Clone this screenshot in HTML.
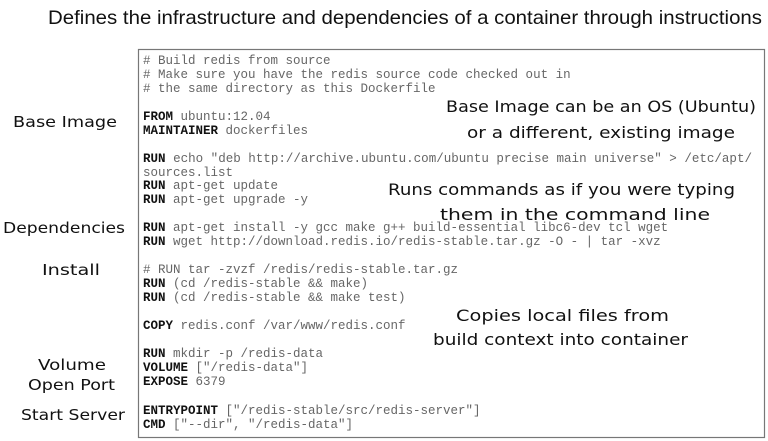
<!DOCTYPE html>
<html><head><meta charset="utf-8"><style>
html,body{margin:0;padding:0;background:#fff;}
svg{display:block}
.c{font-family:"Liberation Mono",monospace;font-size:12.5px;fill:#666}
.c tspan.k{font-weight:bold;fill:#111}
.h{font-family:"DejaVu Sans","Liberation Sans",sans-serif;font-size:15px;fill:#111}
</style></head><body>
<svg width="768" height="441" viewBox="0 0 768 441" xmlns="http://www.w3.org/2000/svg">
<text x="48" y="24" font-family="Liberation Sans, sans-serif" font-size="19.5" fill="#111" textLength="714" lengthAdjust="spacingAndGlyphs">Defines the infrastructure and dependencies of a container through instructions</text>
<rect x="138.5" y="49.5" width="626" height="388" fill="#fff" stroke="#777" stroke-width="1.2"/>
<g class="c">
<text x="143" y="64"># Build redis from source</text>
<text x="143" y="78"># Make sure you have the redis source code checked out in</text>
<text x="143" y="92"># the same directory as this Dockerfile</text>
<text x="143" y="120"><tspan class="k">FROM</tspan> ubuntu:12.04</text>
<text x="143" y="134"><tspan class="k">MAINTAINER</tspan> dockerfiles</text>
<text x="143" y="162" textLength="609" lengthAdjust="spacingAndGlyphs"><tspan class="k">RUN</tspan> echo "deb http://archive.ubuntu.com/ubuntu precise main universe" &gt; /etc/apt/</text>
<text x="143" y="176">sources.list</text>
<text x="143" y="189"><tspan class="k">RUN</tspan> apt-get update</text>
<text x="143" y="203"><tspan class="k">RUN</tspan> apt-get upgrade -y</text>
<text x="143" y="231"><tspan class="k">RUN</tspan> apt-get install -y gcc make g++ build-essential libc6-dev tcl wget</text>
<text x="143" y="245"><tspan class="k">RUN</tspan> wget http://download.redis.io/redis-stable.tar.gz -O - | tar -xvz</text>
<text x="143" y="273"># RUN tar -zvzf /redis/redis-stable.tar.gz</text>
<text x="143" y="287"><tspan class="k">RUN</tspan> (cd /redis-stable &amp;&amp; make)</text>
<text x="143" y="301"><tspan class="k">RUN</tspan> (cd /redis-stable &amp;&amp; make test)</text>
<text x="143" y="329"><tspan class="k">COPY</tspan> redis.conf /var/www/redis.conf</text>
<text x="143" y="357"><tspan class="k">RUN</tspan> mkdir -p /redis-data</text>
<text x="143" y="371"><tspan class="k">VOLUME</tspan> ["/redis-data"]</text>
<text x="143" y="385"><tspan class="k">EXPOSE</tspan> 6379</text>
<text x="143" y="414"><tspan class="k">ENTRYPOINT</tspan> ["/redis-stable/src/redis-server"]</text>
<text x="143" y="428"><tspan class="k">CMD</tspan> ["--dir", "/redis-data"]</text>
</g>
<g class="h">
<text x="13" y="127" textLength="104" lengthAdjust="spacingAndGlyphs">Base Image</text>
<text x="3" y="233" textLength="122" lengthAdjust="spacingAndGlyphs">Dependencies</text>
<text x="42" y="275" textLength="58" lengthAdjust="spacingAndGlyphs">Install</text>
<text x="38" y="370" textLength="68" lengthAdjust="spacingAndGlyphs">Volume</text>
<text x="28" y="390" textLength="87" lengthAdjust="spacingAndGlyphs">Open Port</text>
<text x="21" y="420" textLength="104" lengthAdjust="spacingAndGlyphs">Start Server</text>
<text x="446" y="112" textLength="310" lengthAdjust="spacingAndGlyphs" font-size="16">Base Image can be an OS (Ubuntu)</text>
<text x="467" y="138" textLength="268" lengthAdjust="spacingAndGlyphs" font-size="16">or a different, existing image</text>
<text x="388" y="195" textLength="347" lengthAdjust="spacingAndGlyphs" font-size="16">Runs commands as if you were typing</text>
<text x="440" y="220" textLength="270" lengthAdjust="spacingAndGlyphs" font-size="16">them in the command line</text>
<text x="456" y="321" textLength="213" lengthAdjust="spacingAndGlyphs" font-size="16">Copies local files from</text>
<text x="433" y="345" textLength="255" lengthAdjust="spacingAndGlyphs" font-size="16">build context into container</text>
</g>
</svg>
</body></html>
